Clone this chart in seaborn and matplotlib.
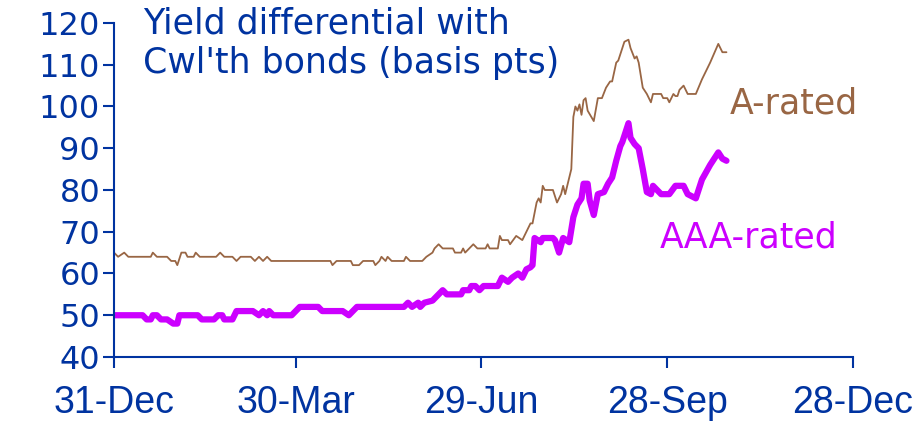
import matplotlib
matplotlib.use('Agg')
import pandas as pd
import numpy as np
import matplotlib.pyplot as plt
import seaborn as sns

# Days after 31-Dec and spread (basis pts)
a_days = [0, 2, 5, 7, 18, 19, 21, 26, 28, 30, 31, 33, 35, 36, 39, 40, 42, 50, 52, 54,
          58, 60, 62, 67, 69, 71, 73, 75, 77, 106, 107, 109, 116, 117, 120, 122, 127, 128,
          130, 131, 133, 134, 136, 142, 143, 145, 151, 153, 156, 157, 159, 161, 166, 167,
          170, 171, 172, 174, 176, 178, 182, 183, 184, 188, 189, 190, 193, 194, 197, 200,
          204, 205, 207, 208, 209, 210, 211, 215, 217, 219, 220, 221, 224, 225, 226, 227,
          228, 229, 230, 231, 232, 235, 237, 239, 241, 243, 244, 246, 247, 249, 250, 252,
          253, 255, 256, 257, 259, 261, 263, 264, 268, 269, 271, 272, 274, 275, 276, 277,
          279, 281, 285, 288, 292, 296, 298, 300]
a_vals = [65, 64, 65, 64, 64, 65, 64, 64, 63, 63, 62, 65, 65, 64, 64, 65, 64, 64, 65, 64,
          64, 63, 64, 64, 63, 64, 63, 64, 63, 63, 62, 63, 63, 62, 62, 63, 63, 62,
          63, 64, 63, 64, 63, 63, 64, 63, 63, 64, 65, 66, 67, 66, 66, 65,
          65, 66, 65, 66, 67, 66, 66, 67, 66, 66, 69, 68, 68, 67, 69, 68,
          72, 72, 77, 78, 77, 81, 80, 80, 77, 79, 81, 79, 85, 97.5, 100, 99,
          100.5, 98, 101.5, 102, 99, 96.5, 102, 102, 104.5, 106, 106, 110.5, 111, 114, 115.5, 116,
          114, 111.5, 112, 110.5, 104.5, 103, 101, 103, 103, 102, 102, 101, 103, 102.5, 102.5, 104,
          105, 103, 103, 106.5, 110.5, 115, 113, 113]

aaa_days = [0, 14, 16, 18, 19, 21, 23, 26, 29, 31, 32, 41, 43, 49, 51, 53, 54, 58, 60, 68,
            71, 73, 75, 76, 78, 87, 91, 100, 102, 112, 115, 119, 142, 144, 146, 149, 150,
            152, 156, 159, 161, 163, 170, 171, 174, 175, 177, 179, 181, 188, 190, 193, 195,
            198, 200, 202, 204, 205, 206, 209, 210, 215, 216, 218, 220, 223, 225, 227, 229,
            230, 232, 233, 235, 237, 240, 242, 244, 246, 248, 249, 252, 253, 255, 257, 259,
            261, 263, 264, 268, 272, 275, 279, 281, 285, 286, 288, 292, 296, 298, 300]
aaa_vals = [50, 50, 49, 49, 50, 50, 49, 49, 48, 48, 50, 50, 49, 49, 50, 50, 49, 49, 51, 51,
            50, 51, 50, 51, 50, 50, 52, 52, 51, 51, 50, 52, 52, 53, 52, 53, 52,
            53, 53.5, 55, 56, 55, 55, 56, 56, 57, 57, 56, 57, 57, 59, 58, 59,
            60, 59, 61, 61.5, 62, 68.5, 67.5, 68.5, 68.5, 68, 65, 68.5, 67.5, 73.5, 76.5, 78,
            81.5, 81.5, 77.5, 74, 79, 79.5, 81.5, 83, 87, 90.5, 91.5, 96, 92.5, 91, 90, 85,
            79.5, 79, 81, 79, 79, 81, 81, 79, 78, 79.5, 82.5, 86, 89, 87.5, 87]

tick_dates = ['2006-12-31', '2007-03-30', '2007-06-29', '2007-09-28', '2007-12-28']
tick_labels = ['31-Dec', '30-Mar', '29-Jun', '28-Sep', '28-Dec']

start = pd.Timestamp('2006-12-31')
df_a = pd.DataFrame({'date': start + pd.to_timedelta(a_days, unit='D'), 'spread': a_vals})
df_aaa = pd.DataFrame({'date': start + pd.to_timedelta(aaa_days, unit='D'), 'spread': aaa_vals})

navy = '#0033A0'
brown = '#996644'
magenta = '#CC00FF'

sns.set_style('white')
plt.rcParams['font.family'] = ['DejaVu Sans']

fig = plt.figure(figsize=(9.24, 4.28), dpi=100)
ax = fig.add_axes([0.1234, 0.1659, 0.7998, 0.7804])

sns.lineplot(data=df_a, x='date', y='spread', ax=ax, color=brown, linewidth=1.3)
sns.lineplot(data=df_aaa, x='date', y='spread', ax=ax, color=magenta, linewidth=4.5)

ax.set_xlim(pd.Timestamp(tick_dates[0]), pd.Timestamp(tick_dates[-1]))
ax.set_ylim(40, 120)
ax.set_yticks(range(40, 121, 10))
ax.set_xticks(pd.to_datetime(tick_dates))
ax.set_xticklabels(tick_labels, fontfamily='Liberation Sans', fontsize=27, color=navy)
ax.tick_params(axis='y', labelsize=23, labelcolor=navy, direction='out', length=8,
               width=1.5, color=navy, pad=2, left=True)
ax.tick_params(axis='x', direction='out', length=8, width=1.5, color=navy, pad=12, bottom=True)
ax.set_xlabel('')
ax.set_ylabel('')

for side in ['top', 'right']:
    ax.spines[side].set_visible(False)
for side in ['left', 'bottom']:
    ax.spines[side].set_color(navy)
    ax.spines[side].set_linewidth(1.5)

fig.text(0.155, 0.985, "Yield differential with\nCwl'th bonds (basis pts)", color=navy,
         fontsize=25, va='top', ha='left', linespacing=1.2)
fig.text(0.790, 0.734, 'A-rated', color=brown, fontsize=25, va='baseline', ha='left')
fig.text(0.714, 0.421, 'AAA-rated', color=magenta, fontsize=25, va='baseline', ha='left')

fig.savefig('out.png', dpi=100)
